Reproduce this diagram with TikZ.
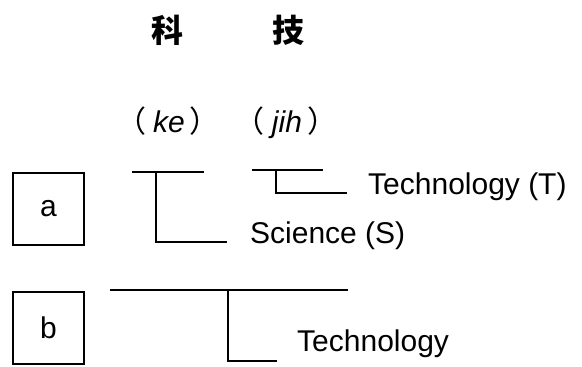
\documentclass[tikz,border=0pt]{standalone}
\usepackage{fontspec}
\setmainfont{Liberation Sans}
\newfontfamily\cjk{Noto Sans CJK SC}
\usepackage{tikz}
\usetikzlibrary{calc,positioning}

\tikzset{
  boxnode/.style={draw, line width=1.4pt, minimum width=71pt, minimum height=72pt, inner sep=0pt, font=\fontsize{30}{36}\selectfont},
  labtext/.style={anchor=base west, inner sep=0pt, font=\fontsize{30}{36}\selectfont},
  readtext/.style={anchor=base, inner sep=0pt, font=\fontsize{30}{36}\selectfont},
  hanzi/.style={inner sep=0pt, font=\cjk\bfseries\fontsize{32}{36}\selectfont},
  bar/.style={line width=1.8pt},
}

\begin{document}
\begin{tikzpicture}[x=1pt,y=1pt]
    \useasboundingbox (0,0) rectangle (582,367);
    \node[hanzi] (zike) at (167,337) {科};
    \node[hanzi] (ziji) at (288,337) {技};
    \node[readtext] (readke) at (168,234) {{\cjk （}\hspace{7pt}\textit{ke}\hspace{5pt}{\cjk ）}};
    \node[readtext] (readji) at (286,234) {{\cjk （}\hspace{7pt}\textit{jih}\hspace{5pt}{\cjk ）}};

    \node[boxnode] (boxa) at (48.5,158) {a};
    \node[boxnode] (boxb) at (48.5,39) {b};

    \node[labtext] (tech) at (368,172) {Technology (T)};
    \node[labtext] (sci) at (250,123) {Science (S)};
    \node[labtext] (techb) at (297,15) {Technology};

    % line a
    \coordinate (ketopl) at (132,195);
    \coordinate (ketopr) at (204,195);
    \coordinate (kestem) at (156,195);
    \coordinate (keend) at (227,125);
    \draw[bar] (ketopl) -- (ketopr);
    \draw[bar] (kestem) |- (keend);

    \coordinate (jitopl) at (252,197);
    \coordinate (jitopr) at (323,197);
    \coordinate (jistem) at (276,197);
    \coordinate (jiend) at (347,174);
    \draw[bar] (jitopl) -- (jitopr);
    \draw[bar] (jistem) |- (jiend);

    % line b
    \coordinate (btopl) at (110,77);
    \coordinate (btopr) at (348,77);
    \coordinate (bstem) at (228,77);
    \coordinate (bend) at (277,6);
    \draw[bar] (btopl) -- (btopr);
    \draw[bar] (bstem) |- (bend);
\end{tikzpicture}
\end{document}
